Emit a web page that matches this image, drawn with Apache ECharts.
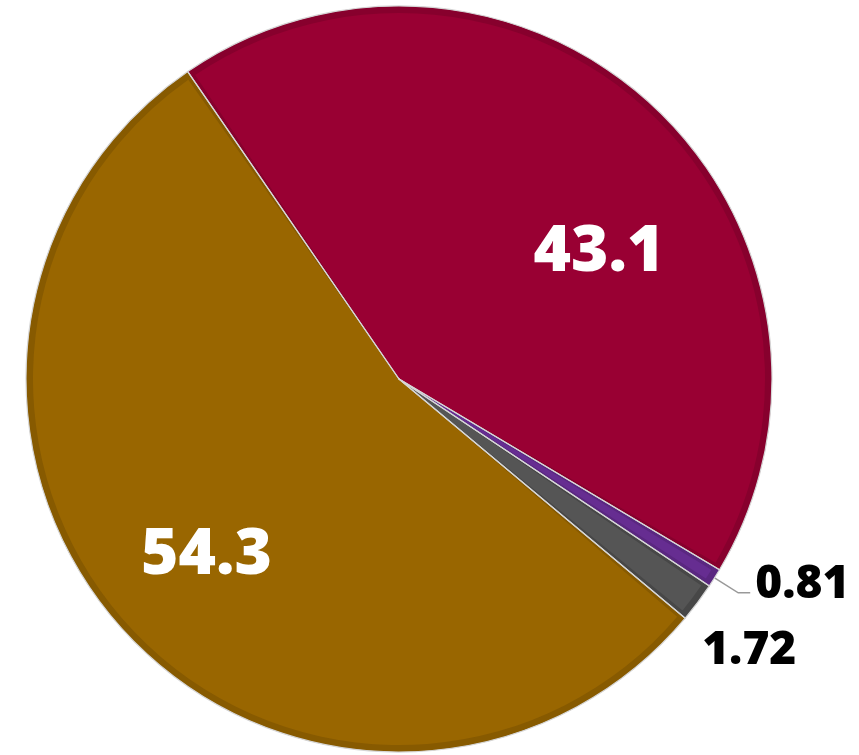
<!DOCTYPE html>
<html>
<head>
<meta charset="utf-8">
<style>
html,body{margin:0;padding:0;background:#fff;}
#chart{width:859px;height:755px;}
</style>
<script src="https://cdn.jsdelivr.net/npm/echarts@6/dist/echarts.min.js"></script>
</head>
<body>
<div id="chart"></div>
<script>
const categories = ['A', 'B', 'C', 'D'];
const values = [43.1, 0.81, 1.72, 54.3];
const labels = ['43.1', '0.81', '1.72', '54.3'];
const mainColors = ['#990033', '#662d91', '#555555', '#996600'];
const edgeColors = ['#87002d', '#5a2780', '#474747', '#875a00'];
const labelOffsets = [[22, 64], [0, -8], [-35, 32], [0, 2]];

const chart = echarts.init(document.getElementById('chart'), null, {renderer: 'canvas'});
const C = [399, 379];
const R = 373;
const common = {
  type: 'pie', center: C, startAngle: 124.5, clockwise: true,
  animation: false, avoidLabelOverlap: false,
  labelLayout: {hideOverlap: false, moveOverlap: null}
};
function items(colors, withLabels) {
  return values.map((v, i) => {
    const it = {name: categories[i], value: v, itemStyle: {color: colors[i]}};
    if (withLabels) {
      const big = v > 10;
      it.label = big ? {
        show: true, position: 'inside', formatter: labels[i],
        fontFamily: 'Open Sans', fontWeight: 800, fontSize: 64, color: '#ffffff',
        offset: labelOffsets[i]
      } : {
        show: true, position: 'outside', formatter: labels[i], overflow: 'none',
        fontFamily: 'Open Sans', fontWeight: 800, fontSize: 46, color: '#000000',
        lineHeight: 46, padding: [0, 0, 32, 0], offset: labelOffsets[i]
      };
      it.labelLine = (big || i === 2) ? {show: false} : {show: true};
    }
    return it;
  });
}
chart.setOption({
  backgroundColor: '#ffffff',
  series: [
    Object.assign({}, common, {
      radius: R, silent: true, label: {show: false}, labelLine: {show: false},
      itemStyle: {borderWidth: 0}, data: items(edgeColors, false)
    }),
    Object.assign({}, common, {
      radius: R - 7, padAngle: 1.3, silent: true, label: {show: false}, labelLine: {show: false},
      itemStyle: {borderWidth: 0}, data: items(mainColors, false)
    }),
    Object.assign({}, common, {
      radius: [R * 0.38, R], silent: true,
      itemStyle: {borderWidth: 0},
      labelLine: {length: 28, length2: 12, lineStyle: {color: '#999999', width: 1.5}},
      data: items(mainColors.map(() => 'rgba(0,0,0,0)'), true)
    }),
    Object.assign({}, common, {
      radius: R, silent: true, label: {show: false}, labelLine: {show: false},
      itemStyle: {color: 'rgba(0,0,0,0)', borderColor: '#d6d6d6', borderWidth: 1.2},
      data: values.map((v, i) => ({name: categories[i], value: v}))
    })
  ]
});
</script>
</body>
</html>
